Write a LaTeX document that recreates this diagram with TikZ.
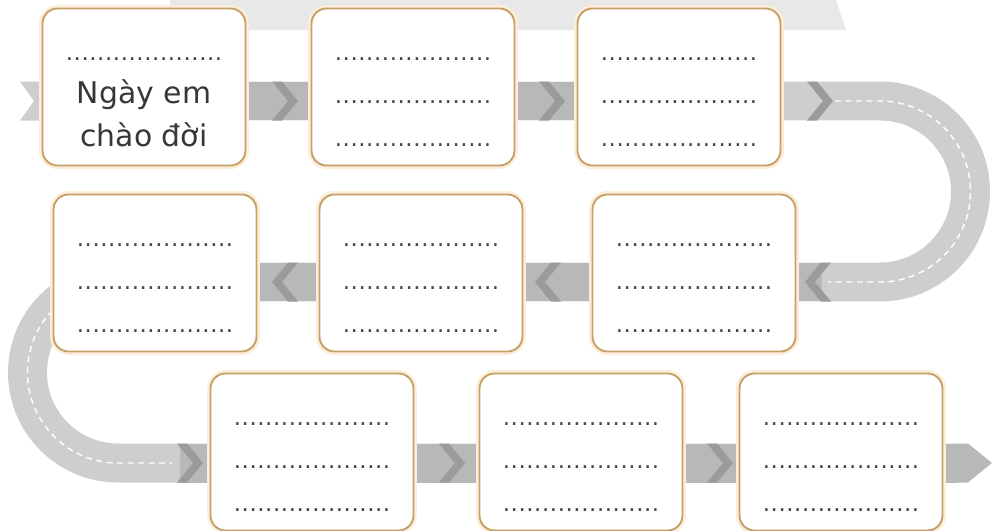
\documentclass[tikz,border=0pt]{standalone}
\usepackage{fontspec}
\setmainfont{DejaVu Sans}
\usetikzlibrary{calc}
\definecolor{cardline}{RGB}{198,162,105}
\definecolor{cardglow}{RGB}{252,238,218}
\definecolor{roadgray}{RGB}{206,206,206}
\definecolor{banddark}{RGB}{184,184,184}
\definecolor{chevgray}{RGB}{155,155,155}
\definecolor{bannergray}{RGB}{232,232,232}
\definecolor{dotgray}{RGB}{70,70,70}
\definecolor{inkgray}{RGB}{55,55,55}
\newcommand{\dotrow}{\hbox to 3.14cm{\xleaders\hbox to 0.157cm{\hss{\fontsize{13pt}{13pt}\selectfont.}\hss}\hfill}}
\tikzset{
  card/.style={rectangle, draw=cardline, fill=white, rounded corners=0.3cm,
    line width=1.1pt, minimum width=4.06cm, minimum height=3.14cm, inner sep=0pt,
    preaction={draw=cardglow, line width=4pt}},
  lines/.style={align=center, inner sep=0pt, text=dotgray,
    font=\fontsize{17pt}{24.4pt}\selectfont},
  road/.style={line width=0.78cm, draw=roadgray},
  band/.style={line width=0.78cm, draw=banddark},
  lane/.style={draw=white, line width=0.8pt, dash pattern=on 0.12cm off 0.09cm},
  chevron/.style={fill=chevgray}
}
\begin{document}
\begin{tikzpicture}[x=0.02cm, y=-0.02cm]
  \useasboundingbox (0,0) rectangle (992,531);
  % faded banner
  \fill[bannergray] (170,0) -- (836,0) -- (846,30) -- (170,30) -- cycle;

  % road
  \coordinate (tail) at (20,101);
  \coordinate (turnR) at (880,101);
  \coordinate (turnL) at (118,282);
  \coordinate (tip) at (992,463);
  \fill[roadgray] (tail |- 0,81.5) -- (42,81.5) -- (42,120.5) -- (tail |- 0,120.5) -- (34,101) -- cycle;
  \draw[road] (40,101) -- (turnR) arc[start angle=-90, end angle=90, radius=90.5]
    -- (turnL) arc[start angle=-90, end angle=-270, radius=90.5] -- (958,463);
  \fill[banddark] (956,443.5) -- (968,443.5) -- (tip) -- (968,482.5) -- (956,482.5) -- cycle;
  \draw[lane] (835,101) -- (turnR) arc[start angle=-90, end angle=90, radius=90.5] -- (828,282);
  \draw[lane] (turnL) arc[start angle=-90, end angle=-270, radius=90.5] -- (172,463);

  \foreach \xa/\xb/\yy in {245/314/101, 513/580/101, 256/322/282, 520/594/282, 795/822/282,
      180/212/463, 413/485/463, 677/745/463, 938/958/463}
    \draw[band] (\xa,\yy) -- (\xb,\yy);

  \foreach \cx/\cy/\d in {298/101/1, 565/101/1, 833/101/1, 805/282/-1, 535/282/-1, 272/282/-1,
      203/463/1, 465/463/1, 733/463/1}
    \fill[chevron, shift={(\cx,\cy)}, xscale=\d]
      (-16,-19.5) -- (0,0) -- (-16,19.5) -- (-26,19.5) -- (-10,0) -- (-26,-19.5) -- cycle;

  % cards
  \foreach \n/\x/\y in {b1/144/87, b2/413/87, b3/679/87, b4/155/273, b5/421/273, b6/694/273,
      b7/312/452, b8/581/452, b9/841/452}
    \node[card] (\n) at (\x,\y) {};

  \node[lines] (b1-t) at ([yshift=-0.3cm]b1.center) {\dotrow\\\textcolor{inkgray}{Ngày em}\\\textcolor{inkgray}{chào đời}};
  \foreach \n in {b2,b3,b4,b5,b6,b7,b8,b9}
    \node[lines] (\n-t) at ([yshift=-0.3cm]\n.center) {\dotrow\\\dotrow\\\dotrow};
\end{tikzpicture}
\end{document}
